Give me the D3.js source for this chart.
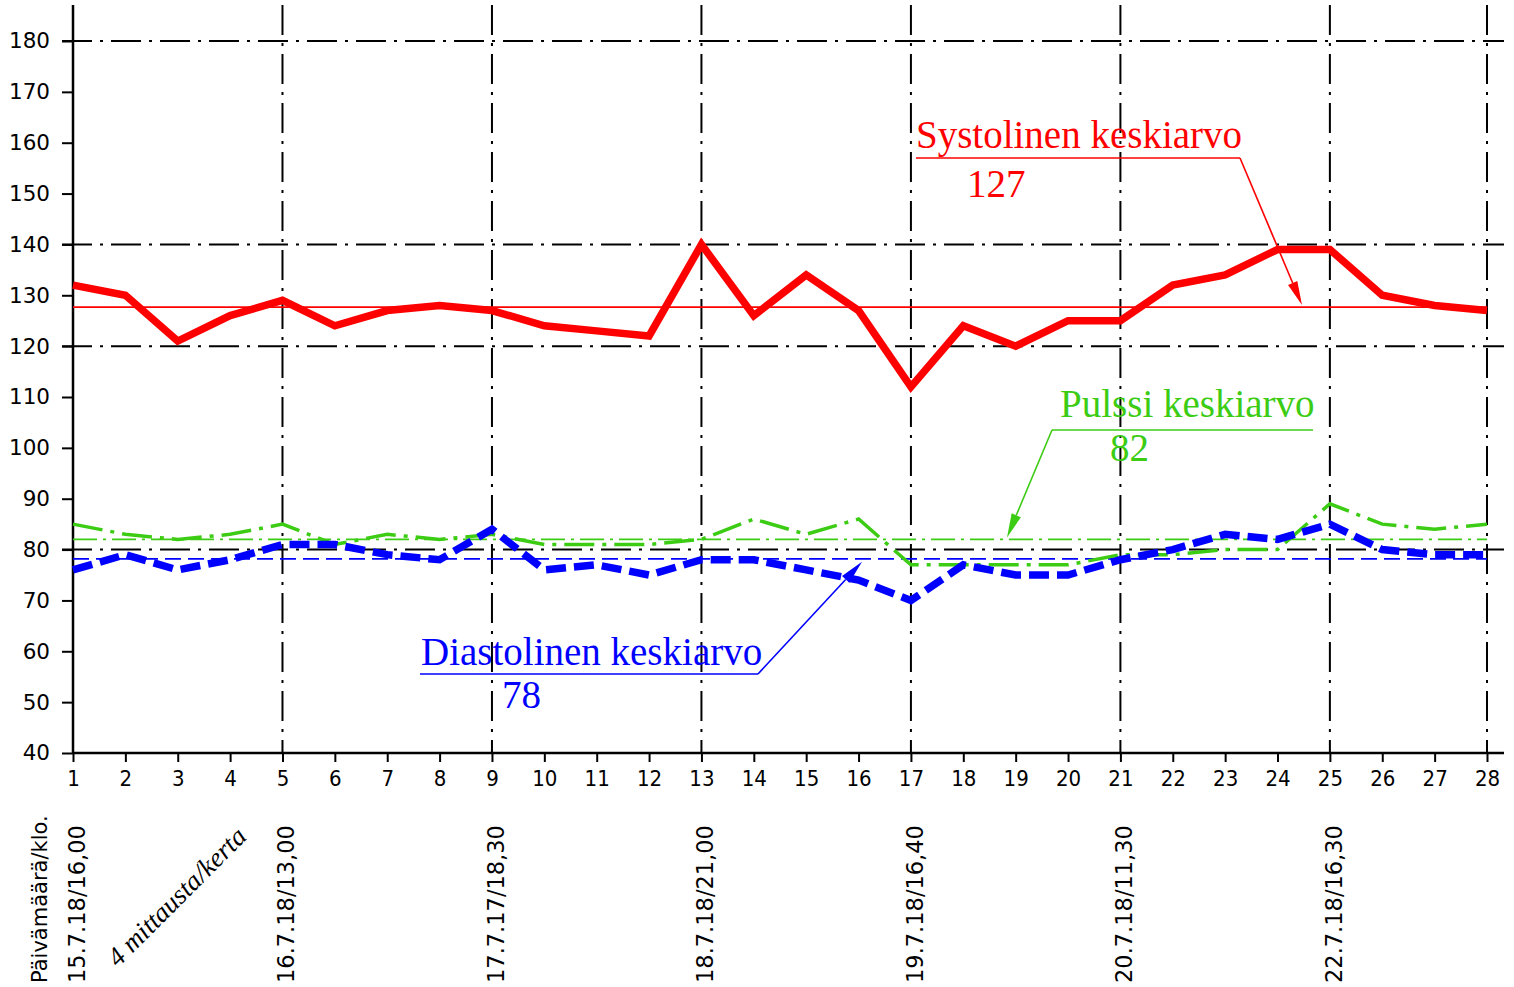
<!DOCTYPE html>
<html>
<head>
<meta charset="utf-8">
<script src="https://cdn.jsdelivr.net/npm/d3@7"></script>
<style>
  body { margin: 0; background: #fff; }
  svg { display: block; }
</style>
</head>
<body>
<svg></svg>
<script>

// ----- Data ----- //
var measurements = [1, 2, 3, 4, 5, 6, 7, 8, 9, 10, 11, 12, 13, 14, 15, 16, 17, 18, 19, 20, 21, 22, 23, 24, 25, 26, 27, 28];
var systolic  = [132, 130, 121, 126, 129, 124, 127, 128, 127, 124, 123, 122, 140, 126, 134, 127, 112, 124, 120, 125, 125, 132, 134, 139, 139, 130, 128, 127];
var diastolic = [76, 79, 76, 78, 81, 81, 79, 78, 84, 76, 77, 75, 78, 78, 76, 74, 70, 77, 75, 75, 78, 80, 83, 82, 85, 80, 79, 79];
var pulse     = [85, 83, 82, 83, 85, 81, 83, 82, 83, 81, 81, 81, 82, 86, 83, 86, 77, 77, 77, 77, 79, 79, 80, 80, 89, 85, 84, 85];

var yTicks = [40, 50, 60, 70, 80, 90, 100, 110, 120, 130, 140, 150, 160, 170, 180];
var yGrid = [180, 140, 120, 80];
var xGrid = [5, 9, 13, 17, 21, 25, 28];

var dateAt = [1, 5, 9, 13, 17, 21, 25];
var dateLabels = ['15.7.18/16,00', '16.7.18/13,00', '17.7.17/18,30', '18.7.18/21,00', '19.7.18/16,40', '20.7.18/11,30', '22.7.18/16,30'];

var meanLabels = ['127', '82', '78'];

// ----- SVG settings ----- //
var svgWidth = 1514;
var svgHeight = 987;
var plot = {left: 73, right: 1487, top: 5, bottom: 753};

var red = '#ff0000';
var blue = '#0000ff';
var green = '#3ccc14';
var sans = '"DejaVu Sans", sans-serif';
var narrow = '"DejaVu Sans Condensed", "Liberation Sans Narrow", "DejaVu Sans", sans-serif';
var serif = '"Liberation Serif", "Times New Roman", serif';

var svg = d3.select('svg')
  .attr('width', svgWidth)
  .attr('height', svgHeight);

var scale = {};
scale.x = d3.scaleLinear().domain([1, 28]).range([plot.left, plot.right]);
scale.y = d3.scaleLinear().domain([40, 180]).range([753, 41]);

var means = {
  sys: d3.mean(systolic),
  dia: d3.mean(diastolic),
  pul: d3.mean(pulse)
};

// ----- Initialization ----- //
drawGrid();
drawAxis();
drawMeans();
drawSeries();
drawAnnotations();
drawDateLabels();

// ==================== Helper functions ==================== //

function drawGrid() {
  var dashDot = '30,8,3,8';
  svg.append('g').selectAll('line')
    .data(yGrid)
    .enter()
    .append('line')
    .attr('x1', plot.left - 11)
    .attr('x2', 1504)
    .attr('y1', function(d) { return scale.y(d); })
    .attr('y2', function(d) { return scale.y(d); })
    .attr('stroke', '#000')
    .attr('stroke-width', 2)
    .attr('stroke-dasharray', dashDot);

  svg.append('g').selectAll('line')
    .data(xGrid)
    .enter()
    .append('line')
    .attr('x1', function(d) { return scale.x(d); })
    .attr('x2', function(d) { return scale.x(d); })
    .attr('y1', plot.top)
    .attr('y2', plot.bottom)
    .attr('stroke', '#000')
    .attr('stroke-width', 2)
    .attr('stroke-dasharray', dashDot);
}

function drawAxis() {
  var yAxis = svg.append('g')
    .attr('transform', translate(plot.left, 0))
    .call(d3.axisLeft(scale.y).tickValues(yTicks).tickSize(11).tickPadding(12));

  var xAxis = svg.append('g')
    .attr('transform', translate(0, plot.bottom))
    .call(d3.axisBottom(scale.x).tickValues(measurements).tickSize(9).tickPadding(8));

  [yAxis, xAxis].forEach(function(a) {
    a.select('.domain').remove();
    a.selectAll('line').attr('stroke', '#000').attr('stroke-width', 2);
  });

  yAxis.selectAll('text')
    .style('font-family', sans)
    .style('font-size', '21.5px')
    .attr('fill', '#000');

  xAxis.selectAll('text')
    .style('font-family', narrow)
    .style('font-size', '22px')
    .attr('fill', '#000');

  svg.append('line')
    .attr('x1', plot.left).attr('x2', plot.left)
    .attr('y1', plot.top).attr('y2', plot.bottom + 1)
    .attr('stroke', '#000').attr('stroke-width', 2.5);

  svg.append('line')
    .attr('x1', plot.left).attr('x2', 1504)
    .attr('y1', plot.bottom).attr('y2', plot.bottom)
    .attr('stroke', '#000').attr('stroke-width', 2.5);
}

function drawMeans() {
  var rows = [
    {v: means.sys, color: red, dash: null},
    {v: means.pul, color: green, dash: '24,6,3,6'},
    {v: means.dia, color: blue, dash: '16,7'}
  ];
  svg.append('g').selectAll('line')
    .data(rows)
    .enter()
    .append('line')
    .attr('x1', plot.left)
    .attr('x2', plot.right)
    .attr('y1', function(d) { return scale.y(d.v); })
    .attr('y2', function(d) { return scale.y(d.v); })
    .attr('stroke', function(d) { return d.color; })
    .attr('stroke-width', 1.6)
    .attr('stroke-dasharray', function(d) { return d.dash; });
}

function drawSeries() {
  var line = d3.line()
    .x(function(d, i) { return scale.x(measurements[i]); })
    .y(function(d) { return scale.y(d); });

  svg.append('path')
    .datum(pulse)
    .attr('d', line)
    .attr('fill', 'none')
    .attr('stroke', green)
    .attr('stroke-width', 3.5)
    .attr('stroke-dasharray', '30,8,4,8');

  svg.append('path')
    .datum(diastolic)
    .attr('d', line)
    .attr('fill', 'none')
    .attr('stroke', blue)
    .attr('stroke-width', 7.5)
    .attr('stroke-dasharray', '20,8');

  svg.append('path')
    .datum(systolic)
    .attr('d', line)
    .attr('fill', 'none')
    .attr('stroke', red)
    .attr('stroke-width', 7.5)
    .attr('stroke-linejoin', 'miter');
}

function drawAnnotations() {
  var notes = [
    {title: 'Systolinen keskiarvo', value: meanLabels[0], color: red,
     tx: 916, ty: 148, vx: 967, vy: 197, ux1: 916, ux2: 1240, uy: 158,
     from: 1240, tipX: 1302, tipY: scale.y(means.sys) - 2},
    {title: 'Pulssi keskiarvo', value: meanLabels[1], color: green,
     tx: 1060, ty: 417, vx: 1110, vy: 461, ux1: 1052, ux2: 1313, uy: 430,
     from: 1052, tipX: 1007, tipY: scale.y(means.pul) - 2},
    {title: 'Diastolinen keskiarvo', value: meanLabels[2], color: blue,
     tx: 421, ty: 665, vx: 502, vy: 708, ux1: 420, ux2: 758, uy: 674,
     from: 758, tipX: 862, tipY: scale.y(means.dia) + 3}
  ];

  notes.forEach(function(n) {
    var g = svg.append('g');
    g.append('text')
      .attr('x', n.tx).attr('y', n.ty)
      .attr('fill', n.color)
      .style('font-family', serif)
      .style('font-size', '39px')
      .text(n.title);
    g.append('text')
      .attr('x', n.vx).attr('y', n.vy)
      .attr('fill', n.color)
      .style('font-family', serif)
      .style('font-size', '39px')
      .text(n.value);
    g.append('line')
      .attr('x1', n.ux1).attr('x2', n.ux2)
      .attr('y1', n.uy).attr('y2', n.uy)
      .attr('stroke', n.color).attr('stroke-width', 1.6);
    arrow(g, [n.from, n.uy], [n.tipX, n.tipY], n.color);
  });
}

function arrow(g, p0, p1, color) {
  var dx = p1[0] - p0[0];
  var dy = p1[1] - p0[1];
  var len = Math.sqrt(dx * dx + dy * dy);
  var ux = dx / len, uy = dy / len;
  var headLen = 24, headW = 5;
  var bx = p1[0] - ux * headLen, by = p1[1] - uy * headLen;

  g.append('line')
    .attr('x1', p0[0]).attr('y1', p0[1])
    .attr('x2', bx).attr('y2', by)
    .attr('stroke', color).attr('stroke-width', 1.6);

  g.append('path')
    .attr('d', 'M' + p1[0] + ',' + p1[1] +
      'L' + (bx - uy * headW) + ',' + (by + ux * headW) +
      'L' + (bx + uy * headW) + ',' + (by - ux * headW) + 'Z')
    .attr('fill', color);
}

function drawDateLabels() {
  var g = svg.append('g');

  g.append('text')
    .attr('transform', translate(47, 983) + ' rotate(-90)')
    .style('font-family', sans)
    .style('font-size', '21px')
    .attr('fill', '#000')
    .text('Päivämäärä/klo.');

  g.selectAll('.date')
    .data(dateLabels)
    .enter()
    .append('text')
    .attr('class', 'date')
    .attr('transform', function(d, i) { return translate(scale.x(dateAt[i]) + 12, 983) + ' rotate(-90)'; })
    .style('font-family', sans)
    .style('font-size', '22.5px')
    .attr('fill', '#000')
    .text(function(d) { return d; });

  g.append('text')
    .attr('transform', translate(118, 968) + ' rotate(-45)')
    .style('font-family', serif)
    .style('font-style', 'italic')
    .style('font-size', '27px')
    .attr('fill', '#000')
    .text('4 mittausta/kerta');
}

function translate(x, y) {
  return 'translate(' + x + ',' + y + ')';
}

</script>
</body>
</html>
